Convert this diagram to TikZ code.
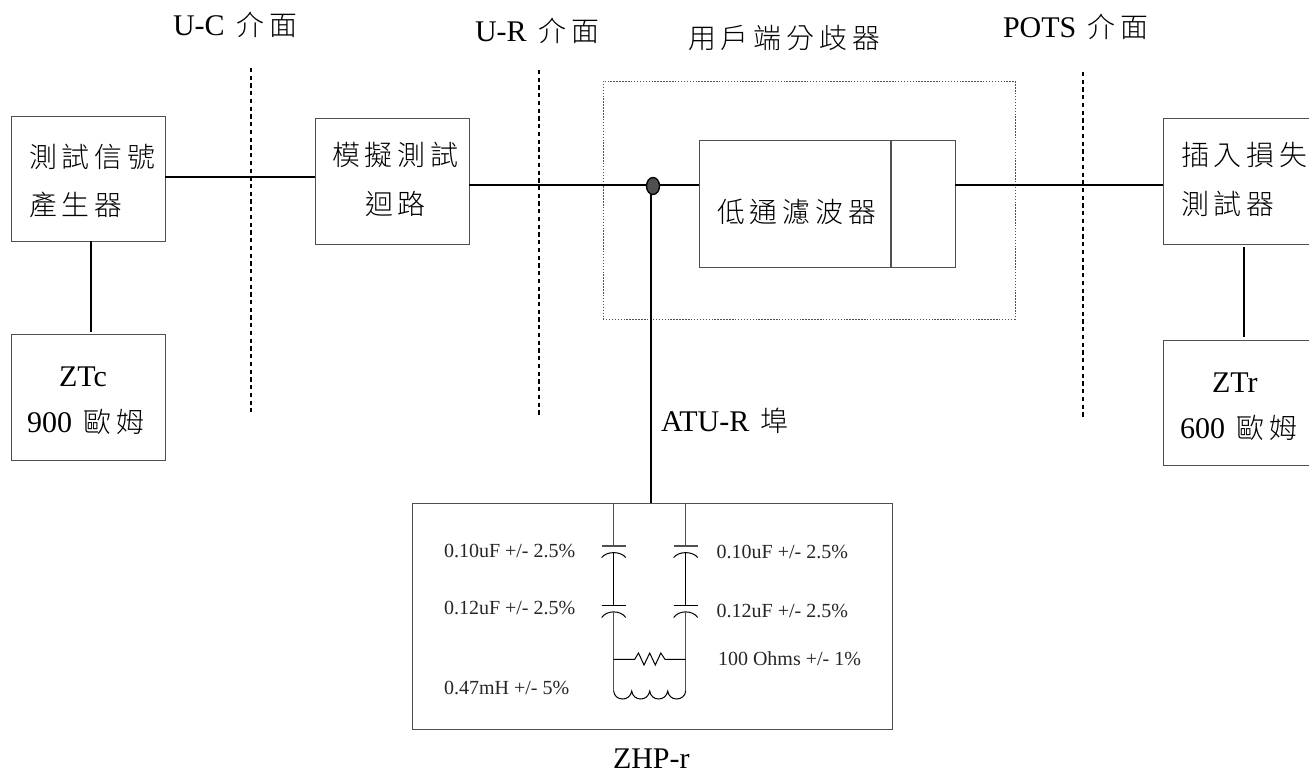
\documentclass[tikz,border=0pt]{standalone}
\usepackage{fontspec}
\setmainfont{Liberation Serif}
\newfontfamily\cjk[Scale=0.93,LetterSpace=18]{Noto Sans CJK TC Light}
\newcommand{\gap}{\hspace{3pt}}
\newcommand{\pxbox}[5]{\node[blk,anchor=north west,minimum width=#4*0.75pt,minimum height=#5*0.75pt] (#1) at (#2,#3) {};}
\newcommand{\lab}[4]{\node[txt] (#1) at (#2,#3) {#4};}
\newcommand{\smalllab}[4]{\node[smalltxt] (#1) at (#2,#3) {#4};}
\definecolor{boxgray}{HTML}{505050}
\definecolor{smallgray}{HTML}{262626}
\tikzset{
  blk/.style={draw=boxgray,line width=0.75pt,inner sep=0pt,outer sep=0pt,fill=white},
  wire/.style={draw=black,line width=1.1pt},
  thinwire/.style={draw=black,line width=0.75pt},
  graywire/.style={draw=boxgray,line width=1.1pt},
  cut/.style={draw=black,line width=1.1pt,dash pattern=on 3.2pt off 2.6pt},
  dotbox/.style={draw=boxgray,line width=0.7pt,dash pattern=on 1.1pt off 1.1pt},
  txt/.style={anchor=base west,inner sep=0pt,outer sep=0pt,font=\fontsize{22.5pt}{24pt}\selectfont},
  smalltxt/.style={anchor=base west,inner sep=0pt,outer sep=0pt,text=smallgray,font=\fontsize{15pt}{17pt}\selectfont},
}
\begin{document}
\begin{tikzpicture}[x=0.75pt,y=-0.75pt]
\useasboundingbox (0,0) rectangle (1309,772);
\clip (0,0) rectangle (1309,772);
\fill[white] (0,0) rectangle (1309,772);

% interface cut lines
\coordinate (uc1) at (251,68);  \coordinate (uc2) at (251,412);
\coordinate (ur1) at (539,70);  \coordinate (ur2) at (539,415);
\coordinate (po1) at (1083,72); \coordinate (po2) at (1083,417);
\draw[cut] (uc1) -- (uc2);
\draw[cut] (ur1) -- (ur2);
\draw[cut] (po1) -- (po2);

% splitter outline (dotted)
\node[dotbox,anchor=north west,inner sep=0pt,outer sep=0pt,minimum width=412*0.75pt,minimum height=238*0.75pt] (split) at (603,81) {};

% boxes
\pxbox{gen}{11}{116}{154}{125}
\pxbox{ztc}{11}{334}{154}{126}
\pxbox{loop}{315}{118}{154}{126}
\pxbox{lpf}{699}{140}{256}{127}
\pxbox{tester}{1163}{118}{170}{126}
\pxbox{ztr}{1163}{340}{170}{125}
\pxbox{zhp}{412.5}{503}{480}{226}
\coordinate (div1) at (891,140); \coordinate (div2) at (891,267);
\draw[graywire] (div1) -- (div2);

% connectors
\draw[wire] (gen.east |- 0,177) -- (loop.west |- 0,177);
\node[circle,fill=none,inner sep=0pt,minimum size=0pt] (dotc) at (653,186) {};
\coordinate (busr) at (651,185);
\draw[wire] (loop.east |- busr) -- (lpf.west |- busr);
\draw[wire] (lpf.east |- busr) -- (tester.west |- busr);
\draw[wire,line width=1.3pt] (91,241) coordinate (g1) -- (91,332) coordinate (g2);
\draw[wire,line width=1.5pt] (1243.7,247) coordinate (t1) -- (1243.7,337) coordinate (t2);
\draw[line width=1.5pt] (busr) -- (busr |- zhp.north);
\draw[fill=boxgray,draw=black,line width=1pt] (dotc) ellipse (6.5 and 8.5);

% capacitor columns
\foreach \cx/\nm in {613.7/l,685.7/r}{
  \draw[graywire] (\cx,503) -- (\cx,546);
  \draw[graywire] (\cx-12,546) -- (\cx+12,546);
  \draw[thinwire] (\cx-12,557.5) .. controls (\cx-7,551) and (\cx+7,551) .. (\cx+12,557.5);
  \draw[wire] (\cx,552) -- (\cx,605);
  \draw[thinwire] (\cx-12,605) -- (\cx+12,605);
  \draw[thinwire] (\cx-12,617.5) .. controls (\cx-7,610) and (\cx+7,610) .. (\cx+12,617.5);
  \draw[graywire] (\cx,611) -- (\cx,691);
}
% resistor
\draw[thinwire] (613.7,659.3) -- (634.7,659.3) -- (638.5,653) -- (644,665) -- (649.7,653) -- (655.3,665) -- (660.8,653) -- (665,659.3) -- (685.7,659.3);
% inductor
\draw[thinwire] (613.7,691) .. controls (614,696) and (618,699) .. (622.7,699)
  .. controls (627,699) and (631,696) .. (631.7,691)
  .. controls (632.4,696) and (636,699) .. (640.7,699)
  .. controls (645,699) and (649,696) .. (649.7,691)
  .. controls (650.4,696) and (654,699) .. (658.7,699)
  .. controls (663,699) and (667,696) .. (667.7,691)
  .. controls (668.4,696) and (672,699) .. (676.7,699)
  .. controls (681,699) and (685.4,696) .. (685.7,691);

% labels
\lab{tuc}{173}{35}{U-C \gap{\cjk 介面}}
\lab{tur}{475}{41}{U-R \gap{\cjk 介面}}
\lab{tsp}{688}{48}{\cjk 用戶端分歧器}
\lab{tpo}{1003}{37}{POTS \gap{\cjk 介面}}
\lab{g1t}{29}{167}{\cjk 測試信號}
\lab{g2t}{29}{215}{\cjk 產生器}
\lab{l1t}{332}{165}{\cjk 模擬測試}
\lab{l2t}{365}{214}{\cjk 迴路}
\lab{f1t}{717}{222}{\cjk 低通濾波器}
\lab{p1t}{1181}{165}{\cjk 插入損失}
\lab{p2t}{1181}{214}{\cjk 測試器}
\lab{z1t}{59}{386}{ZTc}
\lab{z2t}{27}{432}{900 \gap{\cjk 歐姆}}
\lab{z3t}{1212}{392}{ZTr}
\lab{z4t}{1180}{438}{600 \gap{\cjk 歐姆}}
\lab{atu}{661}{431}{ATU-R \gap{\cjk 埠}}
\lab{zhl}{613}{768}{ZHP-r}
\smalllab{c1}{444}{557}{0.10uF +/- 2.5\%}
\smalllab{c2}{444}{614}{0.12uF +/- 2.5\%}
\smalllab{c3}{716.7}{558}{0.10uF +/- 2.5\%}
\smalllab{c4}{716.7}{617}{0.12uF +/- 2.5\%}
\smalllab{r1}{718}{665}{100 Ohms +/- 1\%}
\smalllab{i1}{444}{694}{0.47mH +/- 5\%}
\end{tikzpicture}
\end{document}
